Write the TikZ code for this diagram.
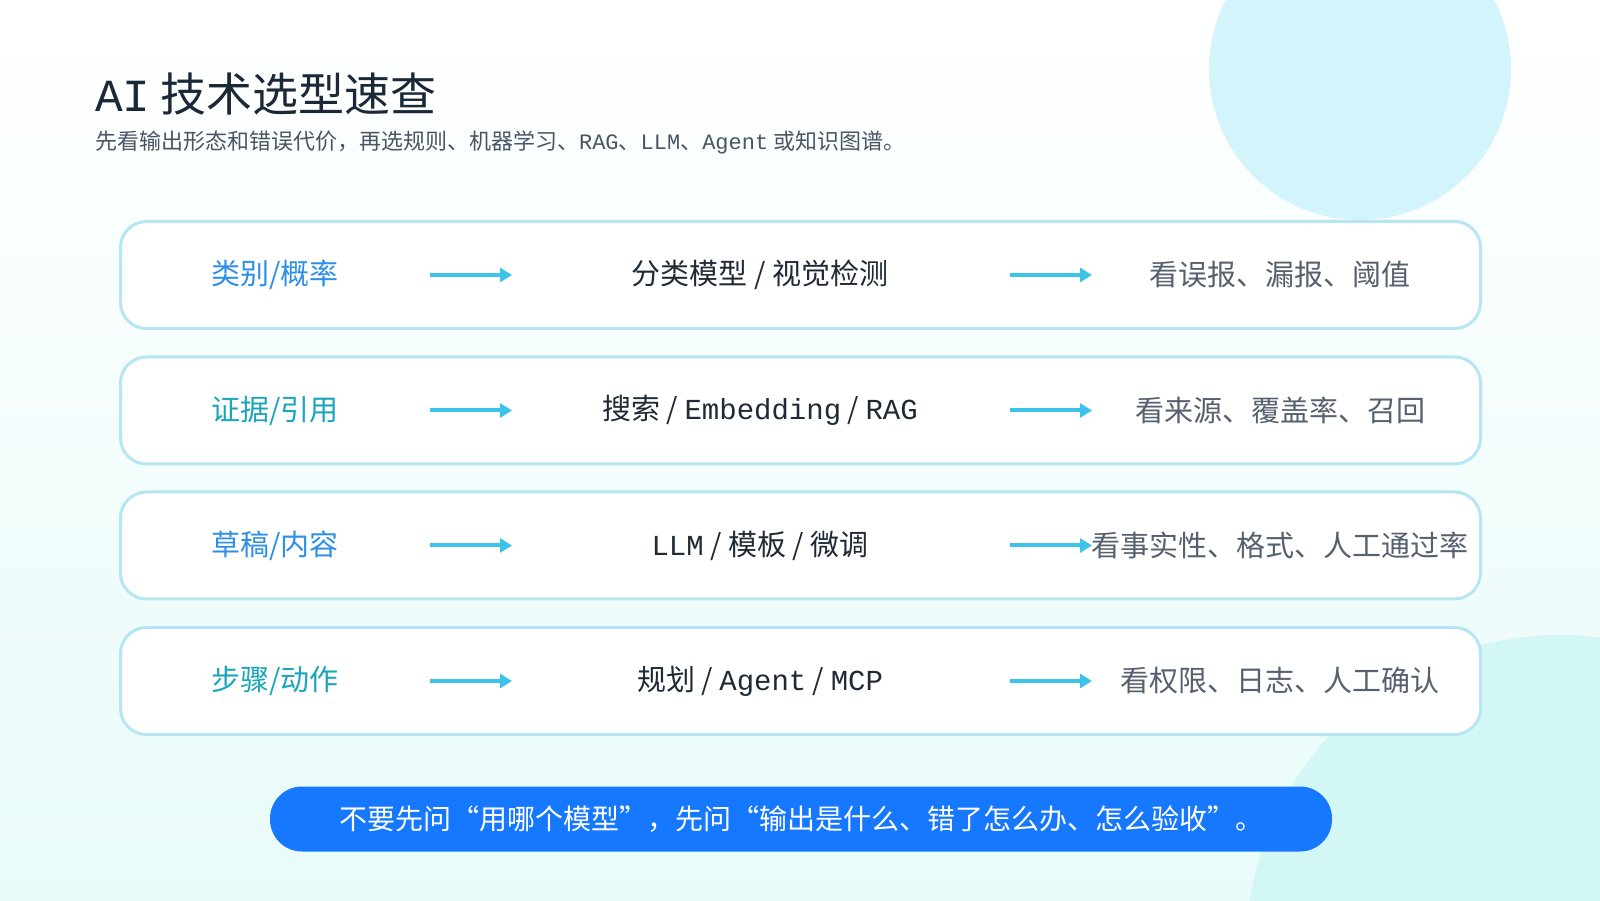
\documentclass[tikz,border=0pt]{standalone}
\usepackage{fontspec}
\setmainfont{Noto Sans CJK SC}
\newfontfamily\enf{Liberation Mono}
\newcommand{\en}[1]{{\enf #1}}
\definecolor{bgA}{HTML}{FFFFFF}
\definecolor{bgB}{HTML}{E8FBFA}
\definecolor{circA}{HTML}{D4F4FB}
\definecolor{circB}{HTML}{D3F7F5}
\definecolor{boxline}{HTML}{B6E6F4}
\definecolor{lblue}{HTML}{2E8FE8}
\definecolor{lteal}{HTML}{19A5BC}
\definecolor{midc}{HTML}{1F2A36}
\definecolor{rightc}{HTML}{56606E}
\definecolor{arr}{HTML}{3CC3EA}
\definecolor{titc}{HTML}{1A2838}
\definecolor{subc}{HTML}{4A5563}
\definecolor{pill}{HTML}{1677FF}
\usetikzlibrary{arrows.meta}
\begin{document}
\begin{tikzpicture}[x=0.5pt,y=0.5pt,
  row/.style={draw=boxline,line width=1.5pt,fill=white,rounded corners=13pt,minimum width=680pt,minimum height=53.5pt,inner sep=0},
  lab/.style={font=\fontsize{14.5}{16}\selectfont},
  mid/.style={font=\fontsize{14.5}{16}\selectfont,text=midc},
  rt/.style={font=\fontsize{14.5}{16}\selectfont,text=rightc},
  ar/.style={draw=arr,line width=2pt,-{Triangle[length=6pt,width=7pt]}},
  pt/.style={inner sep=0,minimum size=0}]
\useasboundingbox (0,0) rectangle (1600,900);
\shade[bottom color=bgB,top color=bgA] (0,0) rectangle (1600,900);
\fill[circA] (1360,831) circle (151);
\begin{scope}
\clip (0,0) rectangle (1600,900);
\fill[circB] (1560,-49) circle (314);
\end{scope}
\node[anchor=base west,text=titc,font=\fontsize{23}{26}\selectfont] (title) at (88,788) {\en{AI} 技术选型速查};
\node[anchor=base west,text=subc,font=\fontsize{11}{13}\selectfont] (sub) at (88,750) {先看输出形态和错误代价，再选规则、机器学习、\en{RAG}、\en{LLM}、\en{Agent} 或知识图谱。};
\foreach \i/\y/\lt/\ac/\mt/\rtx in {
 1/625/{类别/概率}/lblue/{分类模型 / 视觉检测}/{看误报、漏报、阈值},
 2/489.5/{证据/引用}/lteal/{搜索 / \en{Embedding} / \en{RAG}}/{看来源、覆盖率、召回},
 3/354.5/{草稿/内容}/lblue/{\en{LLM} / 模板 / 微调}/{看事实性、格式、人工通过率},
 4/219/{步骤/动作}/lteal/{规划 / \en{Agent} / \en{MCP}}/{看权限、日志、人工确认}} {
  \node[row] (r\i) at (800.5,\y) {};
  \node[lab,text=\ac] (l\i) at (275,\y) {\lt};
  \node[mid] (m\i) at (760,\y) {\mt};
  \node[rt] (t\i) at (1280,\y) {\rtx};
  \coordinate (a\i) at (430,\y); \coordinate (b\i) at (512,\y);
  \coordinate (c\i) at (1010,\y); \coordinate (d\i) at (1092,\y);
  \draw[ar] (a\i) -- (b\i);
  \draw[ar] (c\i) -- (d\i);
}
\node[fill=pill,rounded corners=16pt,minimum width=531pt,minimum height=32.5pt,text=white,font=\fontsize{14}{16}\selectfont] (note) at (801,81) {不要先问“用哪个模型”，先问“输出是什么、错了怎么办、怎么验收”。};
\end{tikzpicture}
\end{document}
